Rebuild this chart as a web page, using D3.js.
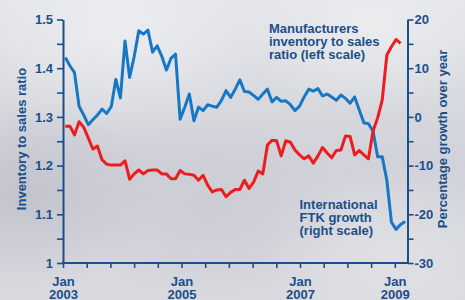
<!DOCTYPE html>
<html lang="en">
<head>
	<meta charset="UTF-8">
	<title>inventory vs FTK</title>
	<style>
		* {
			margin: 0;
			padding: 0;
		}
		body {
			background: #fff;
		}
		svg {
			display: block;
			font-family: "Liberation Sans", Arial, sans-serif;
			font-weight: bold;
		}
	</style>
</head>
<body>
	<script src="https://cdn.jsdelivr.net/npm/d3@7"></script>
	<script>
		// monthly points, Jan 2003 onwards
		// red: manufacturers inventory to sales ratio (left scale)
		var inventoryRatio = [
			1.281, 1.281, 1.263, 1.290, 1.279, 1.257, 1.234, 1.240, 1.212, 1.203,
			1.201, 1.201, 1.201, 1.210, 1.172, 1.183, 1.191, 1.183, 1.190, 1.191,
			1.191, 1.183, 1.183, 1.173, 1.173, 1.190, 1.183, 1.182, 1.180, 1.170,
			1.180, 1.160, 1.146, 1.150, 1.151, 1.136, 1.145, 1.151, 1.151, 1.170,
			1.153, 1.166, 1.189, 1.183, 1.242, 1.252, 1.251, 1.220, 1.251, 1.248,
			1.232, 1.222, 1.214, 1.220, 1.205, 1.220, 1.237, 1.226, 1.216, 1.231,
			1.232, 1.261, 1.260, 1.222, 1.231, 1.222, 1.214, 1.271, 1.298, 1.335,
			1.427, 1.444, 1.459, 1.451
		];
		// blue: international FTK growth, % over year (right scale)
		var ftkGrowth = [
			12.2, 10.5, 9.1, 2.2, 0.4, -1.6, -0.6, 0.4, 1.6, 0.7,
			2.1, 7.7, 3.9, 15.6, 8.1, 12.4, 17.7, 17.0, 17.8, 13.3,
			14.6, 12.5, 9.6, 12.0, 12.9, -0.5, 2.0, 4.7, -0.8, 2.0,
			1.3, 2.5, 2.2, 2.0, 3.4, 5.4, 4.0, 5.7, 7.6, 5.2,
			5.1, 4.4, 3.6, 4.7, 5.7, 3.1, 4.0, 3.2, 3.3, 2.5,
			1.3, 2.2, 4.1, 5.7, 5.3, 5.8, 4.3, 4.7, 4.1, 3.4,
			4.5, 3.8, 2.8, 4.1, 1.4, -1.2, -1.4, -2.9, -8.2, -8.2,
			-13.0, -21.6, -23.1, -22.1, -21.5
		];
		var monthCount = 75;

		var leftTicks = [1, 1.05, 1.1, 1.15, 1.2, 1.25, 1.3, 1.35, 1.4, 1.45, 1.5];
		var rightTicks = [-30, -25, -20, -15, -10, -5, 0, 5, 10, 15, 20];
		// bottom axis: 15 tick marks, only some carry a label
		var xTickLabels = ['Jan 2003', '', '', '', '', 'Jan 2005', '', '', '', '', 'Jan 2007', '', '', '', 'Jan 2009'];

		var leftTitle = 'Inventory to sales ratio';
		var rightTitle = 'Percentage growth over year';
		var redLabel = ['Manufacturers', 'inventory to sales', 'ratio (left scale)'];
		var blueLabel = ['International', 'FTK growth', '(right scale)'];

		var W = 465, H = 300;
		var plot = { left: 63, right: 407.5, top: 19.5, bottom: 263 };
		var ink = '#1b4f8b';

		var svg = d3.select('body').append('svg').attr('width', W).attr('height', H);

		// cloudy grey backdrop
		var defs = svg.append('defs');
		var bg = defs.append('linearGradient').attr('id', 'bg').attr('x1', 0).attr('y1', 0).attr('x2', 0).attr('y2', 1);
		bg.append('stop').attr('offset', 0).attr('stop-color', '#e3e4e8');
		bg.append('stop').attr('offset', 0.55).attr('stop-color', '#d1d2d9');
		bg.append('stop').attr('offset', 1).attr('stop-color', '#d9dadf');
		svg.append('rect').attr('width', W).attr('height', H).attr('fill', 'url(#bg)');

		var clouds = [
			{ id: 'c1', cx: 0.25, cy: 0.1, r: 0.35, c: '#eeeff1', o: 0.8 },
			{ id: 'c2', cx: 0.8, cy: 0.08, r: 0.3, c: '#eeeef0', o: 0.8 },
			{ id: 'c3', cx: 0.05, cy: 0.65, r: 0.3, c: '#bcbec8', o: 0.75 },
			{ id: 'c4', cx: 0.45, cy: 0.7, r: 0.3, c: '#c4c6cf', o: 0.55 },
			{ id: 'c5', cx: 0.85, cy: 0.85, r: 0.3, c: '#e6e6e8', o: 0.6 }
		];
		clouds.forEach(function (c) {
			var g = defs.append('radialGradient').attr('id', c.id);
			g.append('stop').attr('offset', 0).attr('stop-color', c.c).attr('stop-opacity', c.o);
			g.append('stop').attr('offset', 1).attr('stop-color', c.c).attr('stop-opacity', 0);
			svg.append('ellipse')
				.attr('cx', c.cx * W).attr('cy', c.cy * H)
				.attr('rx', c.r * W).attr('ry', c.r * H)
				.attr('fill', 'url(#' + c.id + ')');
		});

		// scales
		var x = d3.scaleLinear().domain([-0.5, monthCount - 0.5]).range([plot.left, plot.right]);
		var xTick = d3.scaleLinear().domain([0, (plot.right - plot.left) / 23.7]).range([plot.left, plot.right]);
		var yLeft = d3.scaleLinear().domain([1, 1.5]).range([plot.bottom, plot.top]);
		var yRight = d3.scaleLinear().domain([-30, 20]).range([plot.bottom, plot.top]);

		// axes
		var gLeft = svg.append('g')
			.attr('transform', 'translate(' + plot.left + ',0)')
			.call(d3.axisLeft(yLeft).tickValues(leftTicks).tickSize(6).tickSizeOuter(0).tickPadding(4)
				.tickFormat(function (d) { return Math.round(d * 100) % 10 === 0 ? String(+d.toFixed(1)) : ''; }));

		var gRight = svg.append('g')
			.attr('transform', 'translate(' + plot.right + ',0)')
			.call(d3.axisRight(yRight).tickValues(rightTicks).tickSize(6).tickSizeOuter(0).tickPadding(1)
				.tickFormat(function (d) { return d % 10 === 0 ? String(d) : ''; }));

		var gBottom = svg.append('g')
			.attr('transform', 'translate(0,' + plot.bottom + ')')
			.call(d3.axisBottom(xTick).tickValues(d3.range(xTickLabels.length)).tickSize(5).tickSizeOuter(0).tickFormat(''));

		gBottom.selectAll('.tick').each(function (d) {
			var t = d3.select(this).select('text');
			if (!xTickLabels[d]) return;
			var parts = xTickLabels[d].split(' ');
			t.attr('y', 0).attr('dy', null);
			t.append('tspan').attr('x', 0).attr('y', 23).text(parts[0]);
			t.append('tspan').attr('x', 0).attr('y', 36).text(parts[1]);
		});

		// drop the empty labels on minor ticks
		[gLeft, gRight, gBottom].forEach(function (g) {
			g.selectAll('.tick text').filter(function () { return !this.textContent; }).remove();
			g.select('.domain').attr('stroke', ink).attr('stroke-width', 2);
			g.selectAll('.tick line').attr('stroke', ink).attr('stroke-width', 1.6);
			g.selectAll('.tick text').attr('fill', ink)
				.style('font-size', '13px').style('font-weight', 'bold')
				.style('font-family', '"Liberation Sans", Arial, sans-serif');
		});
		// close the axis box corners
		gBottom.select('.domain').attr('d', 'M' + (plot.left - 1) + ',0H' + (plot.right + 1));

		// lines
		var lineRight = d3.line().x(function (d, i) { return x(i); }).y(function (d) { return yRight(d); });
		var lineLeft = d3.line().x(function (d, i) { return x(i); }).y(function (d) { return yLeft(d); });

		svg.append('path').datum(ftkGrowth)
			.attr('d', lineRight)
			.attr('fill', 'none').attr('stroke', '#1877c4').attr('stroke-width', 3)
			.attr('stroke-linejoin', 'round');

		svg.append('path').datum(inventoryRatio)
			.attr('d', lineLeft)
			.attr('fill', 'none').attr('stroke', '#ec1c1f').attr('stroke-width', 3)
			.attr('stroke-linejoin', 'round');

		// titles and labels
		function block(lines, x0, y0) {
			var t = svg.append('text').attr('fill', ink).style('font-size', '13px');
			lines.forEach(function (s, i) {
				t.append('tspan').attr('x', x0).attr('y', y0 + i * 13).text(s);
			});
		}
		block(redLabel, 269, 33);
		block(blueLabel, 299.5, 209);

		svg.append('text')
			.attr('transform', 'translate(26,139) rotate(-90)')
			.attr('text-anchor', 'middle').attr('fill', ink).style('font-size', '13px')
			.text(leftTitle);

		svg.append('text')
			.attr('transform', 'translate(447,139) rotate(-90)')
			.attr('text-anchor', 'middle').attr('fill', ink).style('font-size', '13px')
			.text(rightTitle);
	</script>
</body>
</html>
